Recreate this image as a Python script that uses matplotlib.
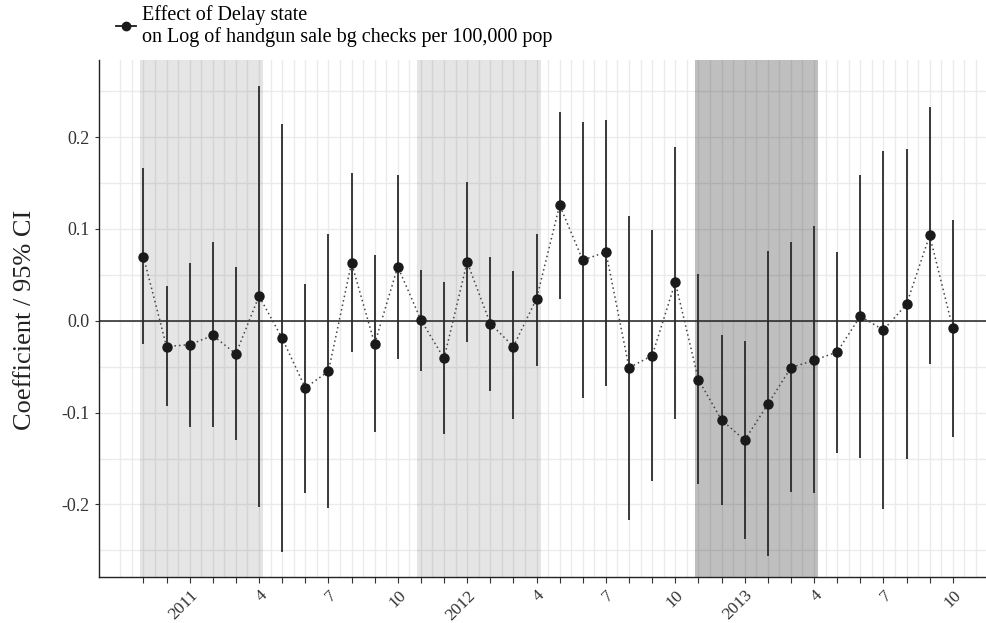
import numpy as np
import pandas as pd
import matplotlib
matplotlib.use("Agg")
import matplotlib.pyplot as plt
from matplotlib.lines import Line2D

# ---------------------------------------------------------
# Data
# ---------------------------------------------------------
months = pd.date_range("2010-11-01", periods=36, freq="MS")

coef = [0.070, -0.028, -0.026, -0.016, -0.036, 0.027, -0.019, -0.073, -0.055, 0.063,
        -0.025, 0.059, 0.001, -0.041, 0.064, -0.003, -0.028, 0.024, 0.126, 0.066,
        0.075, -0.051, -0.038, 0.042, -0.064, -0.108, -0.130, -0.091, -0.051, -0.043,
        -0.034, 0.005, -0.010, 0.018, 0.093, -0.008]
ci_low = [-0.025, -0.093, -0.116, -0.116, -0.130, -0.203, -0.252, -0.187, -0.204, -0.034,
          -0.121, -0.042, -0.055, -0.123, -0.023, -0.076, -0.107, -0.049, 0.024, -0.084,
          -0.071, -0.217, -0.175, -0.107, -0.178, -0.201, -0.238, -0.256, -0.186, -0.188,
          -0.144, -0.149, -0.205, -0.150, -0.047, -0.127]
ci_high = [0.166, 0.038, 0.063, 0.086, 0.059, 0.256, 0.214, 0.040, 0.094, 0.161,
           0.072, 0.159, 0.055, 0.042, 0.151, 0.070, 0.054, 0.095, 0.227, 0.216,
           0.219, 0.114, 0.099, 0.189, 0.051, -0.015, -0.022, 0.076, 0.086, 0.103,
           0.075, 0.159, 0.185, 0.187, 0.233, 0.110]

# shaded periods (first month, last month) and their shade
periods = [("2010-11", "2011-04", 0.10), ("2011-11", "2012-04", 0.10), ("2012-11", "2013-04", 0.25)]

label_months = ["2011-01", "2011-04", "2011-07", "2011-10",
                "2012-01", "2012-04", "2012-07", "2012-10",
                "2013-01", "2013-04", "2013-07", "2013-10"]
label_text = ["2011", "4", "7", "10", "2012", "4", "7", "10", "2013", "4", "7", "10"]

legend_text = "Effect of Delay state\non Log of handgun sale bg checks per 100,000 pop"

# ---------------------------------------------------------
# Plot
# ---------------------------------------------------------
plt.rcParams["font.family"] = ["Liberation Serif", "DejaVu Serif"]

x = np.arange(len(months))
month_idx = {m.strftime("%Y-%m"): i for i, m in enumerate(months)}

fig = plt.figure(figsize=(9.87, 6.23), dpi=100)
ax = fig.add_axes([99 / 987, 1 - 577 / 623, (987 - 99) / 987, (577 - 60) / 623])

# grid
for gx in np.arange(-1, 36.6, 0.5):
    ax.axvline(gx, color="#ebebeb", lw=1.0, zorder=0)
for gy in np.arange(-0.25, 0.26, 0.05):
    ax.axhline(gy, color="#ebebeb", lw=1.0, zorder=0)

for start, end, shade in periods:
    ax.axvspan(month_idx[start] - 0.15, month_idx[end] + 0.18,
               color="black", alpha=shade, lw=0, zorder=1)

ax.axhline(0, color="#222222", lw=1.1, zorder=2)

ax.vlines(x, ci_low, ci_high, color="#2b2b2b", lw=1.3, zorder=3)
ax.plot(x, coef, color="#444444", lw=1.1, ls=(0, (1, 2)), zorder=3)
ax.plot(x, coef, "o", color="#1a1a1a", ms=6.5, zorder=4)

ax.set_xlim(-1.92, 36.48)
ax.set_ylim(-0.279, 0.284)

ax.set_xticks(x, minor=True)
ax.set_xticks([month_idx[m] for m in label_months])
ax.set_xticklabels(label_text, rotation=45, ha="right", va="top",
                   rotation_mode="anchor", fontsize=12.5, color="#333333")
ax.tick_params(axis="x", which="both", length=4, color="#333333", width=0.8)

ax.set_yticks([-0.2, -0.1, 0.0, 0.1, 0.2])
ax.set_yticklabels(["-0.2", "-0.1", "0.0", "0.1", "0.2"], fontsize=13, color="#333333")
ax.tick_params(axis="y", length=3, color="#333333", width=0.8)

for side in ["top", "right"]:
    ax.spines[side].set_visible(False)
for side in ["left", "bottom"]:
    ax.spines[side].set_color("#222222")
    ax.spines[side].set_linewidth(1.0)

ax.set_ylabel("Coefficient / 95% CI", fontsize=19, color="#222222")
ax.yaxis.set_label_coords((36 - 99) / 888, (577 - 320) / 517)

handle = Line2D([], [], color="#1a1a1a", marker="o", ms=6, lw=1.3)
fig.legend([handle], [legend_text], loc="upper left", bbox_to_anchor=(104 / 987, 1.012),
           frameon=False, fontsize=14.5, handlelength=1.0, handletextpad=0.3,
           borderaxespad=0.2, labelspacing=0.1)

fig.savefig("out.png", dpi=100)
